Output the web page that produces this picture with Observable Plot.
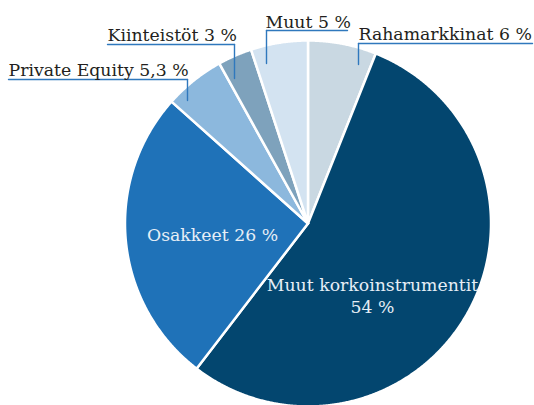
<!DOCTYPE html>
<html>
<head>
<meta charset="utf-8">
<script src="https://cdn.jsdelivr.net/npm/d3@7"></script>
<script src="https://cdn.jsdelivr.net/npm/@observablehq/plot@0.6"></script>
<style>
  html, body { margin: 0; padding: 0; background: #fff; }
  #chart svg { display: block; }
</style>
</head>
<body>
<div id="chart"></div>
<script>
// Data
const categories = ["Rahamarkkinat", "Muut korkoinstrumentit", "Osakkeet", "Private Equity", "Kiinteistöt", "Muut"];
const values = [6, 54, 26, 5.3, 3, 5];
const labels = ["Rahamarkkinat 6 %", "Muut korkoinstrumentit\n54 %", "Osakkeet 26 %", "Private Equity 5,3 %", "Kiinteistöt 3 %", "Muut 5 %"];
const colors = ["#c9d8e2", "#03466f", "#1f72b8", "#8cb8dd", "#7ea2bc", "#d3e3f1"];

// Layout (pixel space)
const W = 534, H = 405;
const cx = 307.5, cy = 223, R = 183;
const font = "DejaVu Serif";
const fontSize = 17.3;
// outside labels: text left x, baseline y, line x (vertical), line bottom y, underline end x
const outside = {
  "Rahamarkkinat": {tx: 358, ty: 39, lx: 358, ly: 43, lb: 64, ux: 532, anchor: "left"},
  "Private Equity": {tx: 8, ty: 75, lx: 187, ly: 79, lb: 100, ux: 8, anchor: "right"},
  "Kiinteistöt": {tx: 107, ty: 40, lx: 234, ly: 44, lb: 78, ux: 107, anchor: "right"},
  "Muut": {tx: 265, ty: 27, lx: 266, ly: 30, lb: 63, ux: 347, anchor: "left"}
};
const inside = {
  "Osakkeet": {x: 212, y: 240},
  "Muut korkoinstrumentit": {x: 372, y: 312}
};

const pie = d3.pie().sort(null).value(d => d.value)(categories.map((c, i) => ({name: c, value: values[i], label: labels[i]})));

// slice polygons
const pts = [];
for (const a of pie) {
  pts.push({name: a.data.name, x: cx, y: cy});
  const n = Math.max(2, Math.ceil((a.endAngle - a.startAngle) / 0.005));
  for (let k = 0; k <= n; k++) {
    const t = a.startAngle + (a.endAngle - a.startAngle) * k / n;
    pts.push({name: a.data.name, x: cx + R * Math.sin(t), y: cy - R * Math.cos(t)});
  }
}

const leaders = [];
const outTexts = [];
pie.forEach(a => {
  const o = outside[a.data.name];
  if (!o) return;
  const id = a.data.name;
  const left = o.anchor === "left" ? o.lx : o.ux;
  const right = o.anchor === "left" ? o.ux : o.lx;
  leaders.push({id, x: left, y: o.ly, k: 0});
  leaders.push({id, x: right, y: o.ly, k: 1});
  leaders.push({id: id + "v", x: o.lx, y: o.ly, k: 0});
  leaders.push({id: id + "v", x: o.lx, y: o.lb, k: 1});
  outTexts.push({x: o.tx, y: o.ty, text: a.data.label});
});
const inTexts = pie.filter(a => inside[a.data.name]).map(a => ({x: inside[a.data.name].x, y: inside[a.data.name].y, text: a.data.label}));

const chart = Plot.plot({
  width: W, height: H,
  margin: 0,
  x: {domain: [0, W], range: [0, W], axis: null},
  y: {domain: [0, H], range: [0, H], axis: null},
  color: {domain: categories, range: colors},
  style: {fontFamily: font, background: "#fff"},
  marks: [
    Plot.line(pts, {x: "x", y: "y", z: "name", fill: "name", stroke: "#fff", strokeWidth: 2.5, curve: "linear-closed", strokeLinejoin: "round"}),
    Plot.line(leaders, {x: "x", y: "y", z: "id", stroke: "#2f78bd", strokeWidth: 1.4}),
    Plot.text(outTexts, {x: "x", y: "y", text: "text", textAnchor: "start", lineAnchor: "bottom", fill: "#231f20", fontSize: fontSize}),
    Plot.text(inTexts, {x: "x", y: "y", text: "text", textAnchor: "middle", lineAnchor: "bottom", fill: "#e6eef6", fontSize: fontSize, lineHeight: 1.27})
  ]
});
document.getElementById("chart").appendChild(chart);
</script>
</body>
</html>
